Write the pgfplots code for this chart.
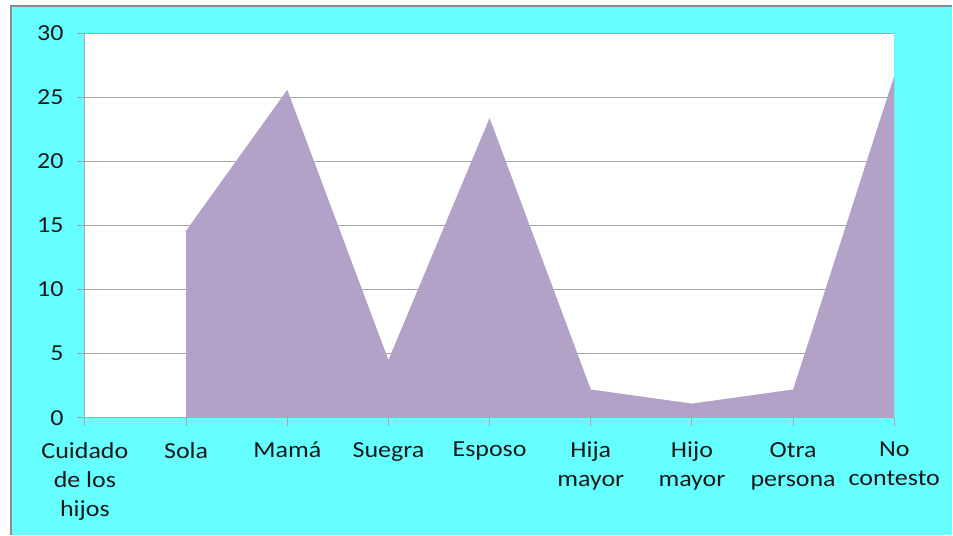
\documentclass[border=0pt]{standalone}
\usepackage{fontspec}
\setmainfont[FakeStretch=1.13]{Carlito}
\usepackage{pgfplots}
\pgfplotsset{compat=1.18}
\definecolor{bgcyan}{HTML}{66FFFF}
\definecolor{areapurple}{HTML}{B3A2C7}
\definecolor{gridgray}{HTML}{A6A6A6}
\definecolor{framegray}{HTML}{8C8C8C}
\definecolor{txt}{HTML}{1A1A1A}
\begin{document}
\begin{tikzpicture}[x=1pt,y=1pt]
\fill[white] (0,0) rectangle (953,535);
\fill[bgcyan] (11,0) rectangle (953,529);
\draw[framegray, line width=1.5pt] (11,0) -- (11,529) -- (953,529);
\begin{axis}[
  at={(85pt,117pt)}, anchor=origin,
  scale only axis, width=810pt, height=384.5pt,
  xmin=0, xmax=8, ymin=0, ymax=30,
  xtick={0,...,8},
  xticklabels={{Cuidado\\de los\\hijos},Sola,Mamá,Suegra,Esposo,{Hija\\mayor},{Hijo\\mayor},{Otra\\persona},{No\\contesto}},
  ytick={0,5,...,30},
  axis lines=left,
  axis line style={gridgray,-,line width=1pt},
  tick style={gridgray,line width=1pt},
  tick align=outside,
  major tick length=8pt,
  ymajorgrids,
  grid style={gridgray,line width=1pt},
  axis background/.style={fill=white},
  /pgf/number format/assume math mode=true,
  ticklabel style={font=\fontsize{23}{29}\selectfont, text=txt},
  xticklabel style={align=center, yshift=-13pt},
  yticklabel style={xshift=-10pt},
]
\addplot[fill=areapurple, draw=none] coordinates {(1,14.6) (2,25.6) (3,4.5) (4,23.4) (5,2.2) (6,1.1) (7,2.2) (8,26.7)} \closedcycle;
\end{axis}
\end{tikzpicture}
\end{document}
